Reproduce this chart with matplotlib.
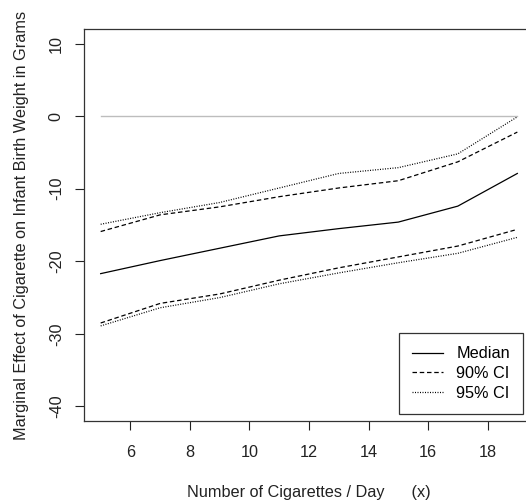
"""
Marginal effect of cigarettes per day on infant birth weight,
with 90% and 95% confidence bands.
"""

import matplotlib.pyplot as plt
import numpy as np

plt.rcParams["font.family"] = ["Liberation Sans", "DejaVu Sans"]

cigs = [5, 7, 9, 11, 13, 15, 17, 19]
median = [-21.7, -19.9, -18.2, -16.5, -15.5, -14.6, -12.4, -7.9]
upper_90 = [-15.9, -13.6, -12.5, -11.1, -9.9, -8.9, -6.3, -2.2]
upper_95 = [-14.9, -13.3, -11.9, -9.9, -7.9, -7.1, -5.2, -0.1]
lower_90 = [-28.5, -25.8, -24.5, -22.6, -20.9, -19.4, -17.9, -15.6]
lower_95 = [-28.9, -26.4, -25.0, -23.1, -21.6, -20.2, -18.9, -16.7]

x_ticks = [6, 8, 10, 12, 14, 16, 18]
y_ticks = [10, 0, -10, -20, -30, -40]

FS = 11.7
DASHED = (0, (3.6, 2.2))
DOTTED = (0, (0.8, 1.2))


def main():
    fig = plt.figure(figsize=(5.26, 5.04), dpi=100)
    # axes run off the right edge, as in the original export
    ax = fig.add_axes([84 / 526, 83 / 504, 450 / 526, 392 / 504])

    ax.plot(cigs, np.zeros(len(cigs)), color="#bdbdbd", lw=1)

    ax.plot(cigs, median, color="black", lw=0.9, label="Median")
    ax.plot(cigs, upper_90, color="black", lw=0.9, ls=DASHED, label="90% CI")
    ax.plot(cigs, lower_90, color="black", lw=0.9, ls=DASHED)
    ax.plot(cigs, upper_95, color="black", lw=0.9, ls=DOTTED, label="95% CI")
    ax.plot(cigs, lower_95, color="black", lw=0.9, ls=DOTTED)

    ax.set_xlim(4.44, 19.56)
    ax.set_ylim(-42, 12)
    ax.set_xticks(x_ticks)
    ax.set_yticks(y_ticks)
    ax.set_yticklabels([str(v) for v in y_ticks], rotation=90, va="center")

    ax.tick_params(direction="out", length=6.5, width=0.8, labelsize=FS,
                   colors="#222222")
    ax.tick_params(axis="x", pad=11)
    ax.tick_params(axis="y", pad=8)
    for side in ax.spines.values():
        side.set_color("#333333")
        side.set_linewidth(0.9)

    ax.set_xlabel("Number of Cigarettes / Day      (x)", fontsize=FS,
                  color="#222222", labelpad=18)
    ax.set_ylabel("Marginal Effect of Cigarette on Infant Birth Weight in Grams",
                  fontsize=FS, color="#222222", labelpad=14)

    leg = ax.legend(loc="lower right", bbox_to_anchor=(0.9756, 0.0179),
                    fontsize=FS, frameon=True, fancybox=False,
                    edgecolor="#333333", framealpha=1, borderaxespad=0,
                    handlelength=1.95, handletextpad=0.8, labelspacing=0.3,
                    borderpad=0.8)
    leg.get_frame().set_linewidth(0.9)

    fig.savefig("out.png", dpi=100)
    plt.close(fig)


if __name__ == "__main__":
    main()
